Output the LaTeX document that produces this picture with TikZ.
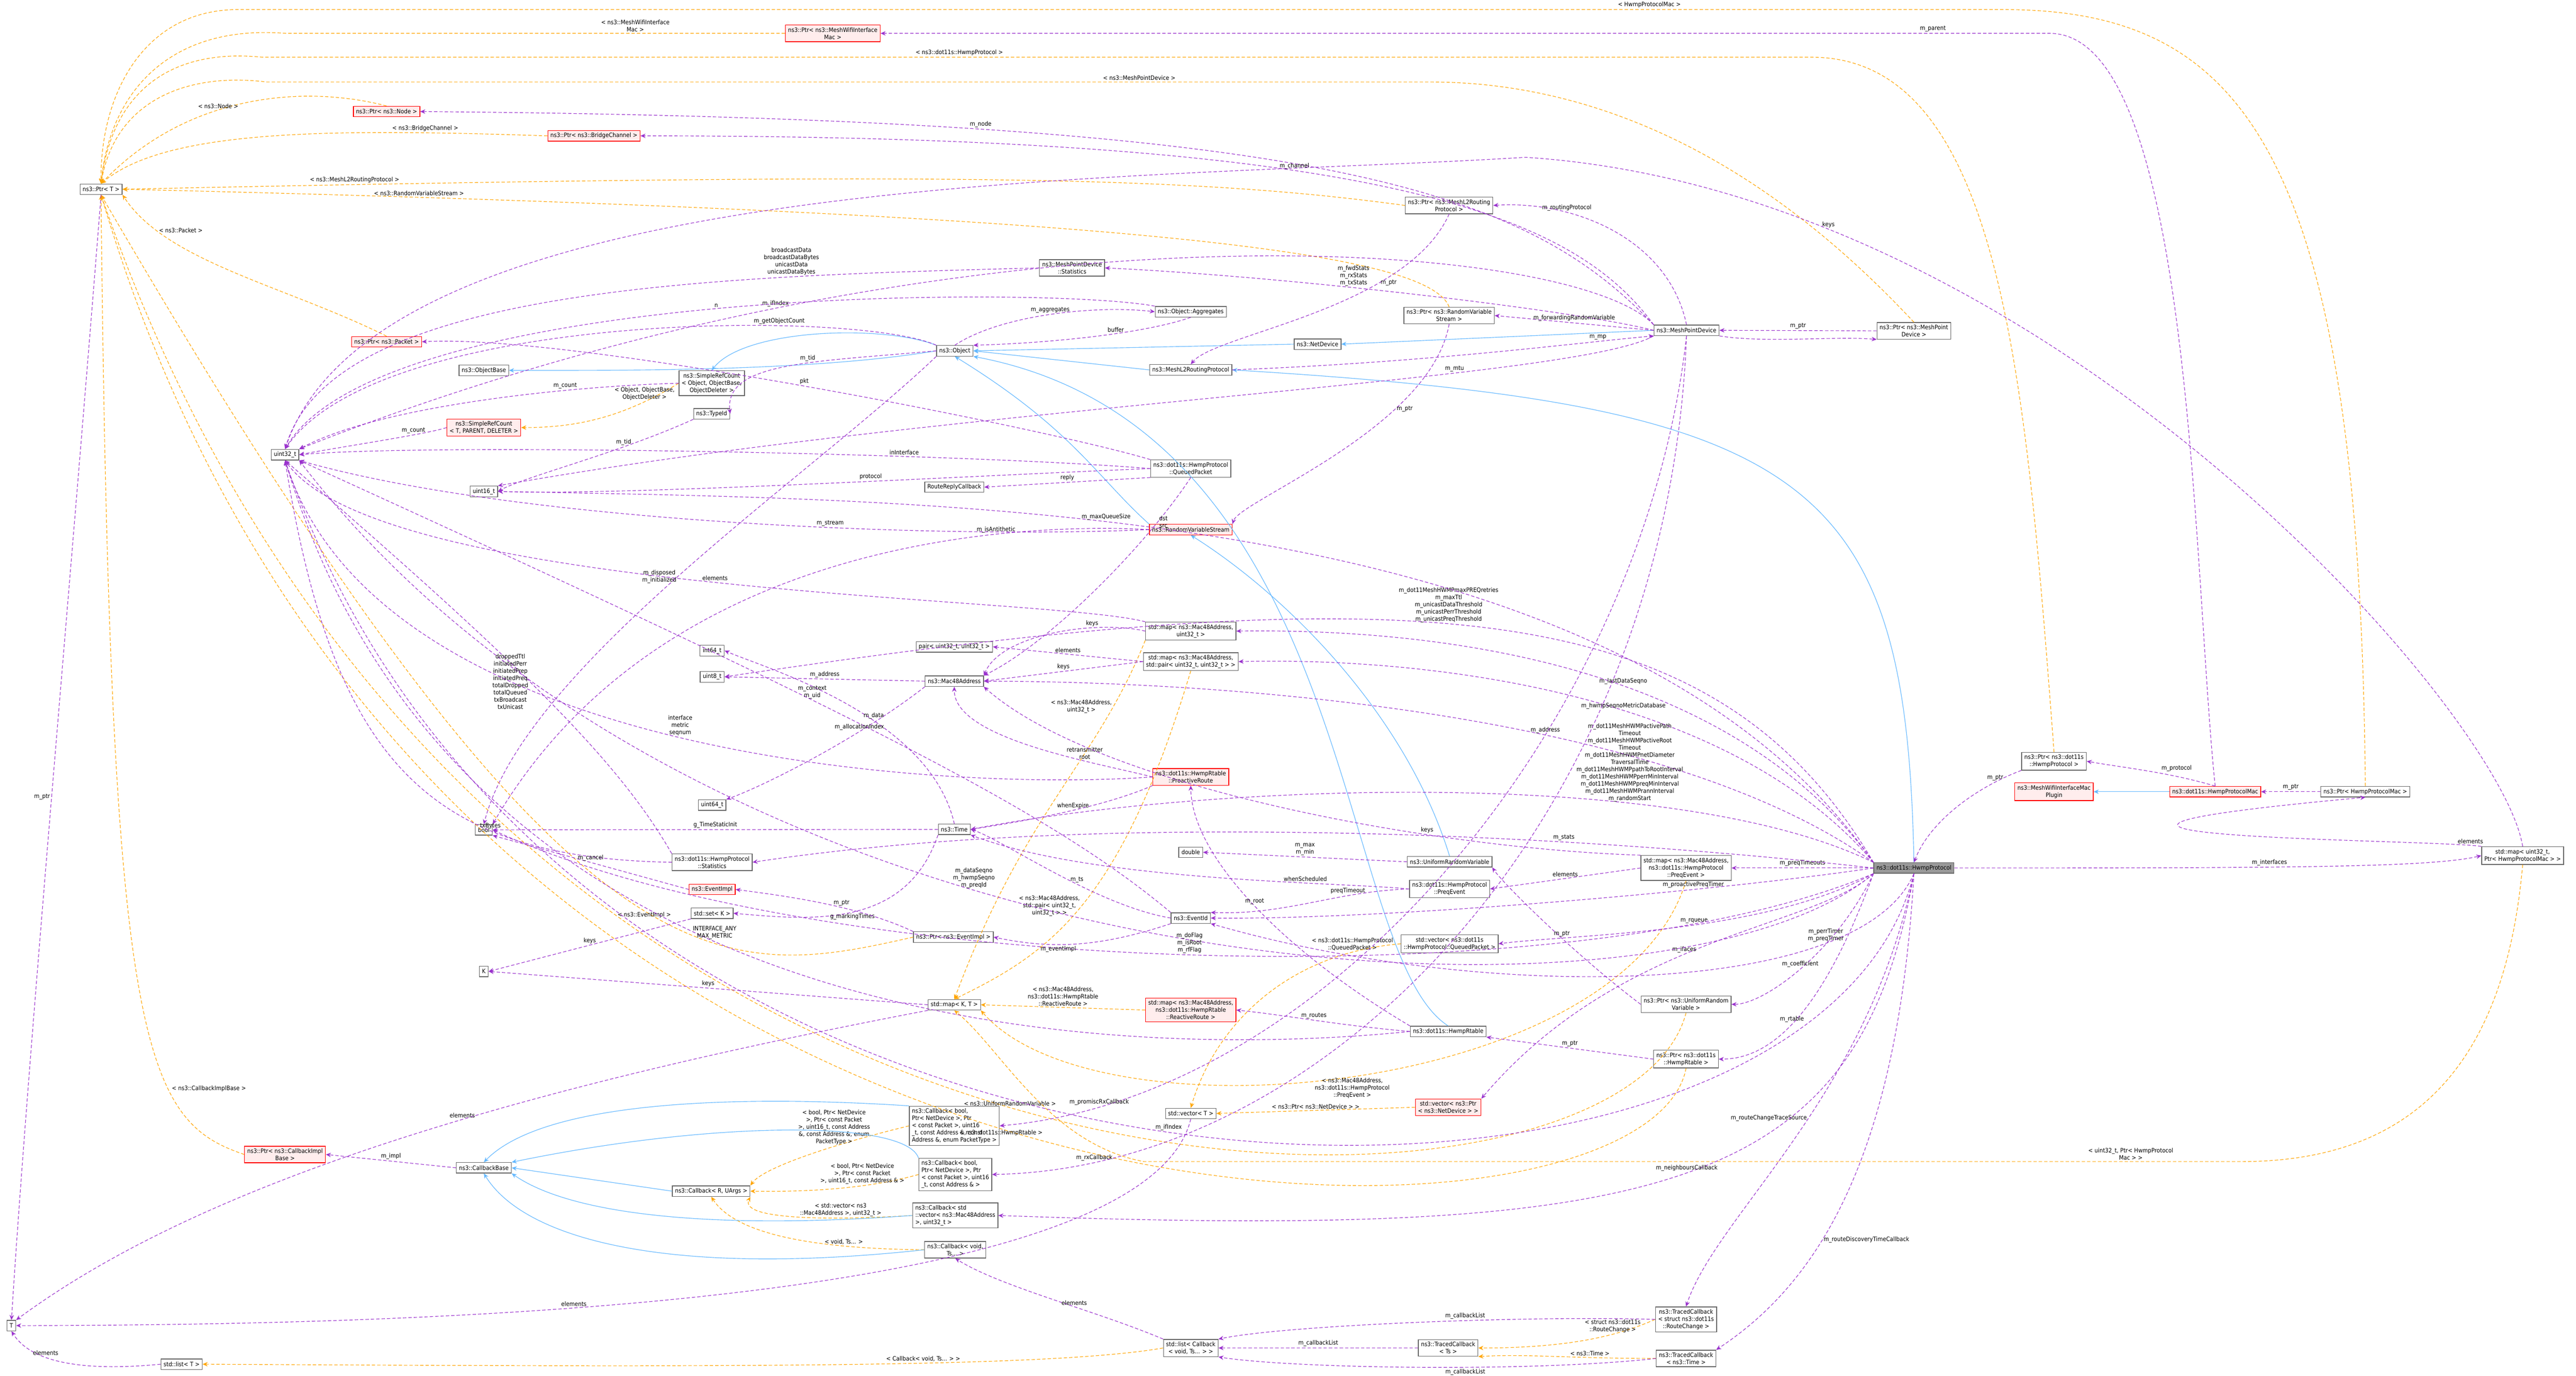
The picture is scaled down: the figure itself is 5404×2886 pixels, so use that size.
\documentclass[tikz,border=0pt]{standalone}
\usepackage{fontspec}
\setmainfont{DejaVu Sans Condensed}
\usetikzlibrary{arrows.meta}
\definecolor{mem}{HTML}{9A32CD}
\definecolor{tpl}{HTML}{FFA500}
\definecolor{inhc}{HTML}{63B8FF}
\tikzset{
 box/.style={draw=black!60,fill=white,font=\fontsize{3.6}{4.3}\selectfont,align=center,inner xsep=1.6pt,inner ysep=1.4pt,minimum height=0.22cm},
 rbox/.style={box,draw=red,fill=red!7},
 mbox/.style={box,fill=black!40,draw=black!60},
 lbl/.style={font=\fontsize{3.6}{4.3}\selectfont,align=center,inner sep=0.8pt},
 memb/.style={draw=mem,dashed,dash pattern=on 2pt off 1.2pt,line width=0.35pt,-{Stealth[length=3pt,width=2.6pt]}},
 tmpl/.style={draw=tpl,dashed,dash pattern=on 2pt off 1.2pt,line width=0.35pt,-{Stealth[length=3pt,width=2.6pt]}},
 inh/.style={draw=inhc,line width=0.35pt,-{Stealth[length=3pt,width=2.6pt]}},
}
\begin{document}
\begin{tikzpicture}[x=0.01cm,y=-0.01cm]
\useasboundingbox[fill=white] (0,0) rectangle (5404,2886);
% nodes
\node[box] (ptrT) at (212,397) {ns3::Ptr< T >};
\node[rbox] (ptrNode) at (811,234) {ns3::Ptr< ns3::Node >};
\node[rbox] (ptrBC) at (1246,285) {ns3::Ptr< ns3::BridgeChannel >};
\node[rbox] (ptrPkt) at (811,717) {ns3::Ptr< ns3::Packet >};
\node[box] (objBase) at (1015,777) {ns3::ObjectBase};
\node[rbox] (srcT) at (1015,897) {ns3::SimpleRefCount\\< T, PARENT, DELETER >};
\node[box] (u32) at (598,954) {uint32\_t};
\node[rbox] (ptrMWIM) at (1747,70) {ns3::Ptr< ns3::MeshWifiInterface\\Mac >};
\node[box] (ptrL2) at (3040,431) {ns3::Ptr< ns3::MeshL2Routing\\Protocol >};
\node[box] (mpdStats) at (2249,562) {ns3::MeshPointDevice\\::Statistics};
\node[box] (objAgg) at (2498,654) {ns3::Object::Aggregates};
\node[box] (obj) at (2003,736) {ns3::Object};
\node[box] (netdev) at (2764,722) {ns3::NetDevice};
\node[box] (l2) at (2498,776) {ns3::MeshL2RoutingProtocol};
\node[box] (ptrRVS) at (3040,662) {ns3::Ptr< ns3::RandomVariable\\Stream >};
\node[box] (srcObj) at (1493,804) {ns3::SimpleRefCount\\< Object, ObjectBase,\\ObjectDeleter >};
\node[box] (typeId) at (1493,868) {ns3::TypeId};
\node[box] (qp) at (2498,983) {ns3::dot11s::HwmpProtocol\\::QueuedPacket};
\node[box] (mpd) at (3538,693) {ns3::MeshPointDevice};
\node[box] (ptrMPD) at (4015,694) {ns3::Ptr< ns3::MeshPoint\\Device >};
\node[box] (ptrHP) at (4309,1597) {ns3::Ptr< ns3::dot11s\\::HwmpProtocol >};
\node[rbox] (plugin) at (4309,1661) {ns3::MeshWifiInterfaceMac\\Plugin};
\node[rbox] (hpm) at (4647,1661) {ns3::dot11s::HwmpProtocolMac};
\node[box] (ptrHPM) at (4962,1661) {ns3::Ptr< HwmpProtocolMac >};
\node[box] (u16) at (1015,1031) {uint16\_t};
\node[box] (rrc) at (2002,1022) {RouteReplyCallback};
\node[box] (i64) at (1494,1365) {int64\_t};
\node[box] (u8) at (1494,1420) {uint8\_t};
\node[box] (pairU) at (2002,1357) {pair< uint32\_t, uint32\_t >};
\node[box] (mac) at (2002,1429) {ns3::Mac48Address};
\node[box] (u64) at (1494,1689) {uint64\_t};
\node[box] (bool) at (1015,1741) {bool};
\node[box] (time) at (2002,1740) {ns3::Time};
\node[box] (hstats) at (1494,1809) {ns3::dot11s::HwmpProtocol\\::Statistics};
\node[rbox] (evImpl) at (1494,1866) {ns3::EventImpl};
\node[box] (setK) at (1494,1916) {std::set< K >};
\node[box] (ptrEI) at (2000,1966) {ns3::Ptr< ns3::EventImpl >};
\node[rbox] (rvs) at (2498,1111) {ns3::RandomVariableStream};
\node[box] (mapMU) at (2498,1324) {std::map< ns3::Mac48Address,\\uint32\_t >};
\node[box] (mapMP) at (2498,1388) {std::map< ns3::Mac48Address,\\std::pair< uint32\_t, uint32\_t > >};
\node[rbox] (proRoute) at (2498,1630) {ns3::dot11s::HwmpRtable\\::ProactiveRoute};
\node[box] (dbl) at (2498,1788) {double};
\node[box] (urv) at (3041,1808) {ns3::UniformRandomVariable};
\node[box] (preqEv) at (3041,1865) {ns3::dot11s::HwmpProtocol\\::PreqEvent};
\node[box] (evId) at (2498,1926) {ns3::EventId};
\node[box] (vecQP) at (3041,1980) {std::vector< ns3::dot11s\\::HwmpProtocol::QueuedPacket >};
\node[box] (K) at (1015,2038) {K};
\node[rbox] (ptrCIB) at (598,2422) {ns3::Ptr< ns3::CallbackImpl\\Base >};
\node[box] (cbBase) at (1015,2450) {ns3::CallbackBase};
\node[box] (cbRU) at (1492,2499) {ns3::Callback< R, UArgs >};
\node[box] (T) at (24,2781) {T};
\node[box] (listT) at (381,2862) {std::list< T >};
\node[box] (mapKT) at (2002,2108) {std::map< K, T >};
\node[rbox] (mapRR) at (2498,2119) {std::map< ns3::Mac48Address,\\ns3::dot11s::HwmpRtable\\::ReactiveRoute >};
\node[box] (rtable) at (3038,2164) {ns3::dot11s::HwmpRtable};
\node[box] (ptrURV) at (3537,2107) {ns3::Ptr< ns3::UniformRandom\\Variable >};
\node[box] (ptrRT) at (3537,2222) {ns3::Ptr< ns3::dot11s\\::HwmpRtable >};
\node[box,align=left] (cb1) at (2002,2362) {ns3::Callback< bool,\\Ptr< NetDevice >, Ptr\\< const Packet >, uint16\\\_t, const Address \&, const\\Address \&, enum PacketType >};
\node[box,align=left] (cb2) at (2004,2464) {ns3::Callback< bool,\\Ptr< NetDevice >, Ptr\\< const Packet >, uint16\\\_t, const Address \& >};
\node[box,align=left] (cb3) at (2004,2550) {ns3::Callback< std\\::vector< ns3::Mac48Address\\>, uint32\_t >};
\node[box] (cbV) at (2004,2622) {ns3::Callback< void,\\Ts... >};
\node[box] (vecT) at (2498,2336) {std::vector< T >};
\node[rbox] (vecPND) at (3038,2323) {std::vector< ns3::Ptr\\< ns3::NetDevice > >};
\node[box] (listCB) at (2498,2828) {std::list< Callback\\< void, Ts... > >};
\node[box] (tcTs) at (3038,2828) {ns3::TracedCallback\\< Ts >};
\node[box] (tcRC) at (3537,2768) {ns3::TracedCallback\\< struct ns3::dot11s\\::RouteChange >};
\node[box] (tcTime) at (3537,2850) {ns3::TracedCallback\\< ns3::Time >};
\node[mbox] (hp) at (4015,1821) {ns3::dot11s::HwmpProtocol};
\node[box] (mapPE) at (3537,1821) {std::map< ns3::Mac48Address,\\ns3::dot11s::HwmpProtocol\\::PreqEvent >};
\node[box] (mapIf) at (5292,1795) {std::map< uint32\_t,\\Ptr< HwmpProtocolMac > >};

% template edges
\draw[tmpl] (ptrHPM.north) .. controls (4950,300) and (4700,20) .. (4200,20) -- node[lbl,above,pos=0.2]{< HwmpProtocolMac >} (500,20) .. controls (300,20) and (210,200) .. (ptrT.north);
\draw[tmpl] (ptrMWIM.west) -- node[lbl,above,pos=0.3]{< ns3::MeshWifiInterface\\Mac >} (600,70) .. controls (350,50) and (230,200) .. (ptrT.north);
\draw[tmpl] (ptrHP.north) .. controls (4250,800) and (4200,120) .. (3800,120) -- node[lbl,above,pos=0.55]{< ns3::dot11s::HwmpProtocol >} (550,120) .. controls (350,100) and (235,200) .. (ptrT.north);
\draw[tmpl] (ptrMPD.north) .. controls (3850,500) and (3500,172) .. (3000,172) -- node[lbl,above,pos=0.25]{< ns3::MeshPointDevice >} (560,172) .. controls (380,150) and (240,220) .. (ptrT.north);
\draw[tmpl] (ptrNode.north) .. controls (650,180) and (400,190) .. node[lbl,above,pos=0.6]{< ns3::Node >} (ptrT.north);
\draw[tmpl] (ptrBC.west) .. controls (700,270) and (350,270) .. node[lbl,above,pos=0.2]{< ns3::BridgeChannel >} (ptrT.north);
\draw[tmpl] (ptrL2.west) .. controls (2500,370) and (2000,360) .. node[lbl,above,pos=0.9]{< ns3::MeshL2RoutingProtocol >} (ptrT.east);
\draw[tmpl] (ptrRVS.north) .. controls (3000,540) and (2500,450) .. node[lbl,above,pos=0.9]{< ns3::RandomVariableStream >} (ptrT.east);
\draw[tmpl] (ptrPkt.north) .. controls (600,600) and (350,550) .. node[lbl,right,pos=0.8]{< ns3::Packet >} (ptrT.south east);
\draw[tmpl] (srcObj.west) .. controls (1300,880) and (1200,897) .. node[lbl,above,pos=0.2]{< Object, ObjectBase,\\ObjectDeleter >} (srcT.east);
\draw[tmpl] (ptrCIB.west) .. controls (300,2350) and (230,2200) .. node[lbl,pos=0.3,above right]{< ns3::CallbackImplBase >} (ptrT.south);
\draw[tmpl] (ptrEI.west) .. controls (1500,2060) and (1200,2110) .. node[lbl,pos=0.45,below]{< ns3::EventImpl >} (ptrT.south);
\draw[tmpl] (ptrURV.south) .. controls (3400,2650) and (1000,2700) .. node[lbl,pos=0.5,above]{< ns3::UniformRandomVariable >} (ptrT.south);
\draw[tmpl] (ptrRT.south) .. controls (3450,2700) and (900,2730) .. node[lbl,pos=0.5,below]{< ns3::dot11s::HwmpRtable >} (ptrT.south);
\draw[tmpl] (mapMU.south west) .. controls (2300,1600) and (2150,1700) .. node[lbl,pos=0.2,left]{< ns3::Mac48Address,\\uint32\_t >} (mapKT.north);
\draw[tmpl] (mapMP.south) .. controls (2350,1900) and (2200,2000) .. node[lbl,pos=0.5,left]{< ns3::Mac48Address,\\std::pair< uint32\_t,\\uint32\_t > >} (mapKT.north);
\draw[tmpl] (mapRR.west) -- node[lbl,above]{< ns3::Mac48Address,\\ns3::dot11s::HwmpRtable\\::ReactiveRoute >} (mapKT.east);
\draw[tmpl] (mapPE.south) .. controls (3400,2300) and (2300,2400) .. node[lbl,pos=0.5,below]{< ns3::Mac48Address,\\ns3::dot11s::HwmpProtocol\\::PreqEvent >} (mapKT.south east);
\draw[tmpl] (mapIf.south) .. controls (5250,2300) and (5000,2437) .. (4700,2437) -- node[lbl,above,pos=0.1]{< uint32\_t, Ptr< HwmpProtocol\\Mac > >} (2400,2437) .. controls (2200,2400) and (2100,2200) .. (mapKT.south);
\draw[tmpl] (vecQP.west) .. controls (2700,2000) and (2550,2150) .. node[lbl,pos=0.15,above]{< ns3::dot11s::HwmpProtocol\\::QueuedPacket >} (vecT.north);
\draw[tmpl] (vecPND.west) -- node[lbl,above]{< ns3::Ptr< ns3::NetDevice > >} (vecT.east);
\draw[tmpl] (cb1.west) .. controls (1750,2400) and (1600,2450) .. node[lbl,pos=0.35,above]{< bool, Ptr< NetDevice\\>, Ptr< const Packet\\>, uint16\_t, const Address\\\&, const Address \&, enum\\PacketType >} (cbRU.north east);
\draw[tmpl] (cb2.west) .. controls (1800,2500) and (1650,2500) .. node[lbl,pos=0.3,above]{< bool, Ptr< NetDevice\\>, Ptr< const Packet\\>, uint16\_t, const Address \& >} (cbRU.east);
\draw[tmpl] (cb3.west) .. controls (1750,2560) and (1550,2560) .. node[lbl,pos=0.3,above]{< std::vector< ns3\\::Mac48Address >, uint32\_t >} (cbRU.south east);
\draw[tmpl] (cbV.west) .. controls (1750,2620) and (1550,2600) .. node[lbl,pos=0.3,above]{< void, Ts... >} (cbRU.south);
\draw[tmpl] (listCB.west) .. controls (2200,2870) and (1500,2868) .. node[lbl,above,pos=0.4]{< Callback< void, Ts... > >} (listT.east);
\draw[tmpl] (tcRC.west) .. controls (3400,2800) and (3300,2828) .. node[lbl,pos=0.35,above]{< struct ns3::dot11s\\::RouteChange >} (tcTs.east);
\draw[tmpl] (tcTime.west) .. controls (3300,2850) and (3200,2840) .. node[lbl,pos=0.3,above]{< ns3::Time >} (tcTs.south east);

% inheritance
\draw[inh] (obj.west) .. controls (1700,780) and (1300,777) .. (objBase.east);
\draw[inh] (obj.north west) .. controls (1850,680) and (1560,690) .. (srcObj.north);
\draw[inh] (netdev.west) -- (obj.east);
\draw[inh] (l2.west) -- (obj.east);
\draw[inh] (rvs.north west) .. controls (2300,1000) and (2250,900) .. (obj.south);
\draw[inh] (rtable.north) .. controls (2800,2000) and (2850,900) .. (obj.south east);
\draw[inh] (mpd.west) -- (netdev.east);
\draw[inh] (hp.north) .. controls (4000,1000) and (3800,850) .. (l2.east);
\draw[inh] (urv.north) .. controls (2950,1500) and (2700,1250) .. (rvs.south);
\draw[inh] (hpm.west) -- (plugin.east);
\draw[inh] (cb1.north west) .. controls (1600,2300) and (1150,2300) .. (cbBase.north);
\draw[inh] (cb2.north west) .. controls (1900,2350) and (1500,2350) .. (cbBase.north east);
\draw[inh] (cbRU.west) -- (cbBase.east);
\draw[inh] (cb3.west) .. controls (1500,2580) and (1200,2550) .. (cbBase.south east);
\draw[inh] (cbV.west) .. controls (1400,2680) and (1100,2600) .. (cbBase.south);

% members of HwmpProtocol
\draw[memb] (hp.west) -- node[lbl,above]{m\_preqTimeouts} (mapPE.east);
\draw[memb] (hp.east) .. controls (4800,1821) and (5100,1820) .. node[lbl,above,pos=0.4]{m\_interfaces} (mapIf.west);
\draw[memb] (mapIf.north west) .. controls (5100,1760) and (4000,1760) .. node[lbl,above,pos=0.05]{elements} (ptrHPM.south);
\draw[memb] (ptrHPM.west) -- node[lbl,above]{m\_ptr} (hpm.east);
\draw[memb] (hpm.north) .. controls (4550,1620) and (4450,1610) .. node[lbl,above right,pos=0.4]{m\_protocol} (ptrHP.east);
\draw[memb] (ptrHP.south west) .. controls (4150,1650) and (4050,1720) .. node[lbl,above,pos=0.2]{m\_ptr} (hp.north);
\draw[memb] (hpm.north) .. controls (4600,1200) and (4600,70) .. (4300,70) -- node[lbl,above,pos=0.1]{m\_parent} (ptrMWIM.east);
\draw[memb] (mapIf.north) .. controls (5250,1500) and (4300,400) .. node[lbl,above,pos=0.8]{keys} (3200,330) .. controls (2400,380) and (800,350) .. (u32.north);
\draw[memb] (hp.west) .. controls (3600,1870) and (2900,1930) .. node[lbl,above,pos=0.3]{m\_proactivePreqTimer} (evId.east);
\draw[memb] (hp.south west) .. controls (3700,1960) and (3300,1960) .. node[lbl,above,pos=0.45]{m\_rqueue} (vecQP.east);
\draw[memb] (hp.south west) .. controls (3800,1950) and (3400,1960) .. node[lbl,above,pos=0.55]{m\_ifaces} (vecPND.north east);
\draw[memb] (hp.south west) .. controls (3850,2000) and (3700,2107) .. node[lbl,above,pos=0.5]{m\_coefficient} (ptrURV.east);
\draw[memb] (hp.south west) .. controls (3850,2050) and (3750,2222) .. node[lbl,above,pos=0.6]{m\_rtable} (ptrRT.east);
\draw[memb] (hp.south) .. controls (3900,2100) and (3100,2100) .. node[lbl,pos=0.2,left]{m\_perrTimer\\m\_preqTimer} (evId.south east);
\draw[memb] (hp.south) .. controls (3920,2300) and (3600,2550) .. node[lbl,pos=0.45,left]{m\_routeChangeTraceSource} (tcRC.north);
\draw[memb] (hp.south) .. controls (3980,2450) and (3800,2700) .. node[lbl,pos=0.6,right]{m\_routeDiscoveryTimeCallback} (tcTime.north east);
\draw[memb] (hp.south) .. controls (3900,2500) and (3500,2600) .. node[lbl,pos=0.5,above]{m\_neighboursCallback} (cb3.east);
\draw[memb] (hp.west) .. controls (3300,1750) and (2300,1700) .. node[lbl,above,pos=0.3]{m\_stats} (hstats.east);
\draw[memb] (hp.north west) .. controls (3600,1350) and (2900,1320) .. node[lbl,above,pos=0.4]{m\_lastDataSeqno} (mapMU.east);
\draw[memb] (hp.north west) .. controls (3600,1420) and (2900,1380) .. node[lbl,above,pos=0.4]{m\_hwmpSeqnoMetricDatabase} (mapMP.east);
\draw[memb] (hp.north west) .. controls (3500,1500) and (2600,1430) .. node[lbl,above,pos=0.4]{m\_address} (mac.east);
\draw[memb] (hp.north west) .. controls (3600,1250) and (3000,1200) .. node[lbl,above,pos=0.55]{m\_dot11MeshHWMPmaxPREQretries\\m\_maxTtl\\m\_unicastDataThreshold\\m\_unicastPerrThreshold\\m\_unicastPreqThreshold} (u8.east);
\draw[memb] (hp.north west) .. controls (3500,1600) and (2500,1650) .. node[lbl,above,pos=0.3]{m\_dot11MeshHWMPactivePath\\Timeout\\m\_dot11MeshHWMPactiveRoot\\Timeout\\m\_dot11MeshHWMPnetDiameter\\TraversalTime\\m\_dot11MeshHWMPpathToRootInterval\\m\_dot11MeshHWMPperrMinInterval\\m\_dot11MeshHWMPpreqMinInterval\\m\_dot11MeshHWMPrannInterval\\m\_randomStart} (time.east);
\draw[memb] (hp.north west) .. controls (3400,1050) and (2000,1050) .. node[lbl,above,pos=0.6]{m\_maxQueueSize} (u16.east);
\draw[memb] (hp.south west) .. controls (3500,2200) and (1500,2100) .. node[lbl,above,pos=0.6]{m\_dataSeqno\\m\_hwmpSeqno\\m\_preqId} (u32.south east);
\draw[memb] (hp.south west) .. controls (3300,2100) and (1700,2050) .. node[lbl,above,pos=0.5]{m\_doFlag\\m\_isRoot\\m\_rfFlag} (bool.east);
\draw[memb] (hp.south) .. controls (3800,2700) and (1200,2700) .. node[lbl,above,pos=0.5]{m\_ifIndex} (u32.south);

% MeshPointDevice members
\draw[memb] (mpd.north west) .. controls (3200,400) and (2800,250) .. node[lbl,above,pos=0.75]{m\_node} (ptrNode.east);
\draw[memb] (mpd.north west) .. controls (3300,450) and (2900,285) .. node[lbl,above,pos=0.6]{m\_channel} (ptrBC.east);
\draw[memb] (mpd.north) .. controls (3500,500) and (3300,420) .. node[lbl,above,pos=0.7]{m\_routingProtocol} (ptrL2.east);
\draw[memb] (mpd.west) .. controls (3300,650) and (2700,580) .. node[lbl,above,pos=0.6]{m\_fwdStats\\m\_rxStats\\m\_txStats} (mpdStats.east);
\draw[memb] (mpd.west) -- node[lbl,above]{m\_forwardingRandomVariable} (ptrRVS.east);
\draw[memb] (ptrMPD.west) -- node[lbl,above]{m\_ptr} (mpd.east);
\draw[memb] (mpd.south east) .. controls (3700,720) and (3850,705) .. (ptrMPD.south west);
\draw[memb] (mpd.south west) .. controls (3300,800) and (2000,850) .. node[lbl,above,pos=0.3]{m\_mtu} (u16.north east);
\draw[memb] (mpd.north west) .. controls (3300,500) and (2000,400) .. node[lbl,above,pos=0.75]{m\_ifIndex} (u32.north east);
\draw[memb] (mpd.south) .. controls (3450,1500) and (2800,2300) .. node[lbl,above,pos=0.9]{m\_promiscRxCallback} (cb1.east);
\draw[memb] (mpd.south) .. controls (3500,1700) and (2800,2450) .. node[lbl,above,pos=0.9]{m\_rxCallback} (cb2.east);
\draw[memb] (l2.east) .. controls (3000,760) and (3300,720) .. node[lbl,above,pos=0.8]{m\_mp} (mpd.south west);
\draw[memb] (ptrL2.south) .. controls (2950,650) and (2550,700) .. node[lbl,right,pos=0.3]{m\_ptr} (l2.north);
\draw[memb] (ptrRVS.south) .. controls (3000,900) and (2600,1050) .. node[lbl,right,pos=0.3]{m\_ptr} (rvs.north east);
\draw[memb] (mpdStats.west) .. controls (1500,580) and (700,600) .. node[lbl,above,pos=0.25]{broadcastData\\broadcastDataBytes\\unicastData\\unicastDataBytes} (u32.north);

% Object members
\draw[memb] (obj.north) .. controls (2100,660) and (2300,640) .. node[lbl,above]{m\_aggregates} (objAgg.west);
\draw[memb] (objAgg.south) .. controls (2400,700) and (2200,720) .. node[lbl,above,pos=0.4]{buffer} (obj.north east);
\draw[memb] (objAgg.north west) .. controls (2200,600) and (800,600) .. node[lbl,above,pos=0.5]{n} (u32.north);
\draw[memb] (obj.north west) .. controls (1800,650) and (800,650) .. node[lbl,above,pos=0.3]{m\_getObjectCount} (u32.north);
\draw[memb] (obj.west) .. controls (1700,760) and (1520,760) .. node[lbl,above,pos=0.4]{m\_tid} (typeId.east);
\draw[memb] (obj.south west) .. controls (1700,1000) and (1100,1400) .. node[lbl,left,pos=0.5]{m\_disposed\\m\_initialized} (bool.north);
\draw[memb] (srcT.west) .. controls (900,910) and (700,940) .. node[lbl,above,pos=0.3]{m\_count} (u32.east);
\draw[memb] (srcObj.west) .. controls (1200,810) and (800,850) .. node[lbl,above,pos=0.3]{m\_count} (u32.north east);
\draw[memb] (typeId.south west) .. controls (1300,950) and (1100,1000) .. node[lbl,above,pos=0.3]{m\_tid} (u16.east);

% QueuedPacket
\draw[memb] (qp.north west) .. controls (2200,900) and (1200,700) .. node[lbl,above,pos=0.5]{pkt} (ptrPkt.east);
\draw[memb] (qp.west) .. controls (2000,950) and (900,930) .. node[lbl,above,pos=0.3]{inInterface} (u32.east);
\draw[memb] (qp.west) .. controls (2000,1000) and (1300,1040) .. node[lbl,above,pos=0.4]{protocol} (u16.east);
\draw[memb] (qp.south west) -- node[lbl,above]{reply} (rrc.east);
\draw[memb] (qp.south) .. controls (2400,1150) and (2200,1350) .. node[lbl,right,pos=0.2]{dst\\src} (mac.north east);

% RandomVariableStream
\draw[memb] (rvs.west) .. controls (2200,1100) and (1400,1100) .. node[lbl,above,pos=0.3]{m\_isAntithetic} (bool.north east);
\draw[memb] (rvs.west) .. controls (2000,1130) and (1100,1100) .. node[lbl,above,pos=0.4]{m\_stream} (u32.south east);

% maps and others
\draw[memb] (mapMU.west) .. controls (2300,1300) and (2100,1330) .. node[lbl,above,pos=0.3]{keys} (mac.north east);
\draw[memb] (mapMU.north west) .. controls (2200,1250) and (800,1250) .. node[lbl,above,pos=0.5]{elements} (u32.south);
\draw[memb] (mapMP.west) -- node[lbl,above]{elements} (pairU.east);
\draw[memb] (mapMP.west) -- node[lbl,above]{keys} (mac.east);
\draw[memb] (mac.west) -- node[lbl,above]{m\_address} (u8.east);
\draw[memb] (time.north) .. controls (1950,1500) and (1600,1400) .. node[lbl,above,pos=0.4]{m\_data} (i64.east);
\draw[memb] (time.west) -- node[lbl,above]{g\_TimeStaticInit} (bool.east);
\draw[memb] (time.south west) .. controls (1900,1950) and (1700,1930) .. node[lbl,below,pos=0.5]{g\_markingTimes} (setK.east);
\draw[memb] (setK.south west) -- node[lbl,above]{keys} (K.east);
\draw[memb] (mapKT.west) -- node[lbl,above]{keys} (K.east);
\draw[memb] (mapKT.south west) .. controls (1000,2300) and (400,2500) .. node[lbl,above,pos=0.4]{elements} (T.north east);
\draw[memb] (hstats.north west) .. controls (1300,1600) and (1100,1400) .. node[lbl,left,pos=0.55]{droppedTtl\\initiatedPerr\\initiatedPrep\\initiatedPreq\\totalDropped\\totalQueued\\txBroadcast\\txUnicast} (u32.south);
\draw[memb] (hstats.west) .. controls (900,1800) and (700,1600) .. node[lbl,above,pos=0.3]{txBytes} (u32.south);
\draw[memb] (evImpl.west) -- node[lbl,above]{m\_cancel} (bool.south east);
\draw[memb] (evId.north west) .. controls (2200,1700) and (1800,1500) .. node[lbl,above,pos=0.6]{m\_context\\m\_uid} (u32.south east);
\draw[memb] (evId.south west) .. controls (2300,1990) and (2200,1990) .. node[lbl,below,pos=0.6]{m\_eventImpl} (ptrEI.east);
\draw[memb] (evId.west) .. controls (2300,1900) and (2100,1760) .. node[lbl,above,pos=0.4]{m\_ts} (time.east);
\draw[memb] (ptrEI.north west) .. controls (1800,1900) and (1650,1880) .. node[lbl,above,pos=0.4]{m\_ptr} (evImpl.east);
\draw[memb] (proRoute.west) .. controls (2300,1600) and (2000,1550) .. node[lbl,above,pos=0.3]{retransmitter\\root} (mac.south);
\draw[memb] (proRoute.south west) .. controls (2300,1700) and (2100,1730) .. node[lbl,above,pos=0.4]{whenExpire} (time.east);
\draw[memb] (proRoute.west) .. controls (2000,1660) and (800,1600) .. node[lbl,above,pos=0.5]{interface\\metric\\seqnum} (u32.south);
\draw[memb] (mac.south west) .. controls (1800,1550) and (1600,1650) .. node[lbl,above,pos=0.3]{m\_allocationIndex} (u64.north east);
\draw[memb] (rtable.west) .. controls (2800,2150) and (2700,2130) .. node[lbl,above,pos=0.5]{m\_routes} (mapRR.east);
\draw[memb] (rtable.north west) .. controls (2700,2000) and (2500,1800) .. node[lbl,above,pos=0.5]{m\_root} (proRoute.south);
\draw[memb] (rtable.west) .. controls (2600,2200) and (1000,2300) .. node[lbl,above,pos=0.6]{INTERFACE\_ANY\\MAX\_METRIC} (u32.south);
\draw[memb] (ptrRT.west) -- node[lbl,above]{m\_ptr} (rtable.south east);
\draw[memb] (ptrURV.west) .. controls (3300,2000) and (3150,1850) .. node[lbl,above,pos=0.4]{m\_ptr} (urv.south east);
\draw[memb] (urv.west) -- node[lbl,above]{m\_max\\m\_min} (dbl.east);
\draw[memb] (preqEv.west) .. controls (2800,1870) and (2700,1920) .. node[lbl,above,pos=0.3]{preqTimeout} (evId.north east);
\draw[memb] (preqEv.west) .. controls (2800,1850) and (2300,1850) .. node[lbl,above,pos=0.3]{whenScheduled} (time.south east);
\draw[memb] (mapPE.west) -- node[lbl,above]{elements} (preqEv.east);
\draw[memb] (mapPE.north west) .. controls (3000,1780) and (2300,1650) .. node[lbl,above,pos=0.3]{keys} (mac.south east);
\draw[memb] (cbBase.west) -- node[lbl,above]{m\_impl} (ptrCIB.east);
\draw[memb] (listCB.north west) .. controls (2300,2750) and (2100,2700) .. node[lbl,above,pos=0.4]{elements} (cbV.south);
\draw[memb] (tcTs.west) -- node[lbl,above]{m\_callbackList} (listCB.east);
\draw[memb] (tcRC.west) .. controls (3200,2760) and (2700,2780) .. node[lbl,above,pos=0.4]{m\_callbackList} (listCB.north east);
\draw[memb] (tcTime.west) .. controls (3200,2880) and (2700,2870) .. node[lbl,below,pos=0.4]{m\_callbackList} (listCB.south east);
\draw[memb] (listT.west) .. controls (150,2880) and (60,2850) .. node[lbl,above,pos=0.6]{elements} (T.south);
\draw[memb] (vecT.south) .. controls (2400,2750) and (800,2780) .. node[lbl,above,pos=0.6]{elements} (T.east);
\draw[memb] (ptrT.south) .. controls (150,1200) and (60,2200) .. node[lbl,left,pos=0.5]{m\_ptr} (T.north);
\end{tikzpicture}
\end{document}
